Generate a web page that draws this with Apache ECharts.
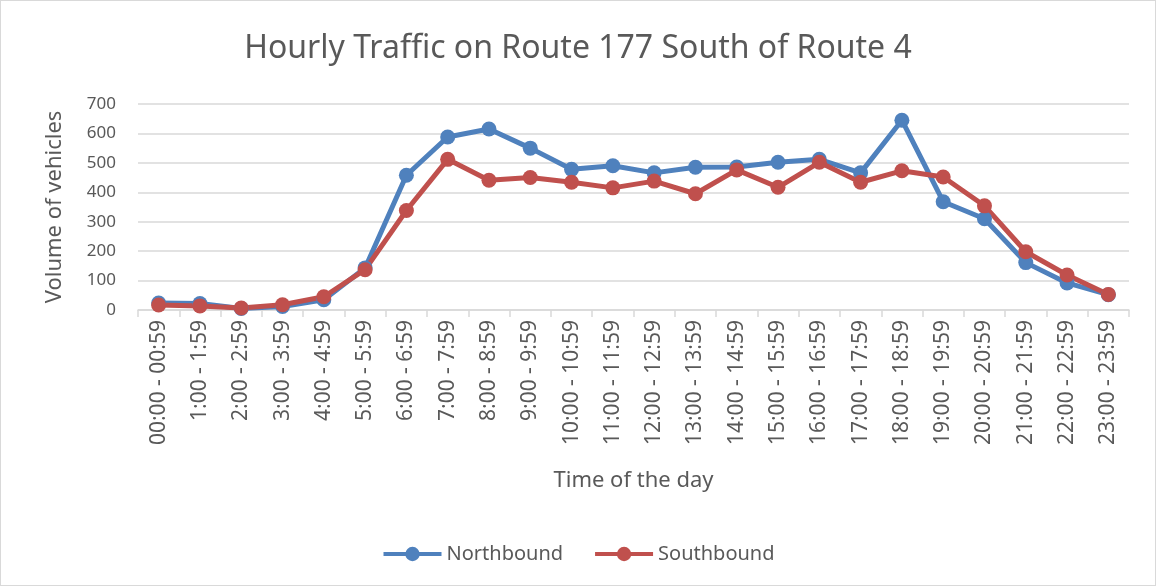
<!DOCTYPE html>
<html>
<head>
<meta charset="utf-8">
<script src="https://cdn.jsdelivr.net/npm/echarts@6/dist/echarts.min.js"></script>
<style>
  html, body { margin: 0; padding: 0; background: #fff; }
  #chart { width: 1154px; height: 584px; border: 1px solid #d9d9d9; }
</style>
</head>
<body>
<div id="chart"></div>
<script>
const hours = [
  '00:00 - 00:59', '1:00 - 1:59', '2:00 - 2:59', '3:00 - 3:59', '4:00 - 4:59', '5:00 - 5:59',
  '6:00 - 6:59', '7:00 - 7:59', '8:00 - 8:59', '9:00 - 9:59', '10:00 - 10:59', '11:00 - 11:59',
  '12:00 - 12:59', '13:00 - 13:59', '14:00 - 14:59', '15:00 - 15:59', '16:00 - 16:59', '17:00 - 17:59',
  '18:00 - 18:59', '19:00 - 19:59', '20:00 - 20:59', '21:00 - 21:59', '22:00 - 22:59', '23:00 - 23:59'
];
const northbound = [24, 22, 5, 12, 35, 143, 458, 588, 615, 550, 478, 490, 466, 485, 486, 502, 512, 466, 645, 368, 310, 161, 92, 52];
const southbound = [17, 14, 7, 18, 45, 137, 338, 512, 441, 450, 434, 415, 438, 395, 476, 417, 502, 434, 473, 452, 354, 198, 119, 53];

const textColor = '#595959';
const fontFamily = '"Noto Sans", sans-serif';

function lineSeries(name, data, color) {
  return {
    name: name,
    type: 'line',
    data: data,
    symbol: 'circle',
    symbolSize: 15,
    lineStyle: { width: 5, color: color },
    itemStyle: { color: color },
    emphasis: { disabled: true },
    animation: false
  };
}

const chart = echarts.init(document.getElementById('chart'));
chart.setOption({
  textStyle: { fontFamily: fontFamily, color: textColor },
  title: {
    text: 'Hourly Traffic on Route 177 South of Route 4',
    left: 'center',
    top: 27,
    textStyle: { fontSize: 32, fontWeight: 'normal', color: textColor, fontFamily: fontFamily }
  },
  legend: {
    bottom: 16,
    left: 'center',
    itemWidth: 58,
    itemHeight: 18,
    itemGap: 30,
    lineStyle: { width: 4 },
    textStyle: { fontSize: 20, color: textColor },
    data: ['Northbound', 'Southbound']
  },
  grid: { left: 137, right: 26, top: 103, bottom: 275 },
  xAxis: {
    type: 'category',
    data: hours,
    boundaryGap: true,
    name: 'Time of the day',
    nameLocation: 'middle',
    nameGap: 160,
    nameTextStyle: { fontSize: 22, color: textColor },
    axisLine: { lineStyle: { color: '#d9d9d9', width: 1.5 } },
    axisTick: { show: true, alignWithLabel: false, length: 7, lineStyle: { color: '#d9d9d9', width: 1.5 } },
    axisLabel: { rotate: 90, interval: 0, fontSize: 21, color: textColor, margin: 10 }
  },
  yAxis: {
    type: 'value',
    min: 0,
    max: 700,
    interval: 100,
    name: 'Volume of vehicles',
    nameLocation: 'middle',
    nameGap: 72,
    nameTextStyle: { fontSize: 22, color: textColor },
    axisLine: { show: false },
    axisTick: { show: false },
    axisLabel: { fontSize: 17, color: textColor, margin: 22 },
    splitLine: { lineStyle: { color: '#d9d9d9', width: 1.5 } }
  },
  series: [
    lineSeries('Northbound', northbound, '#4f81bd'),
    lineSeries('Southbound', southbound, '#c0504d')
  ]
});
</script>
</body>
</html>
